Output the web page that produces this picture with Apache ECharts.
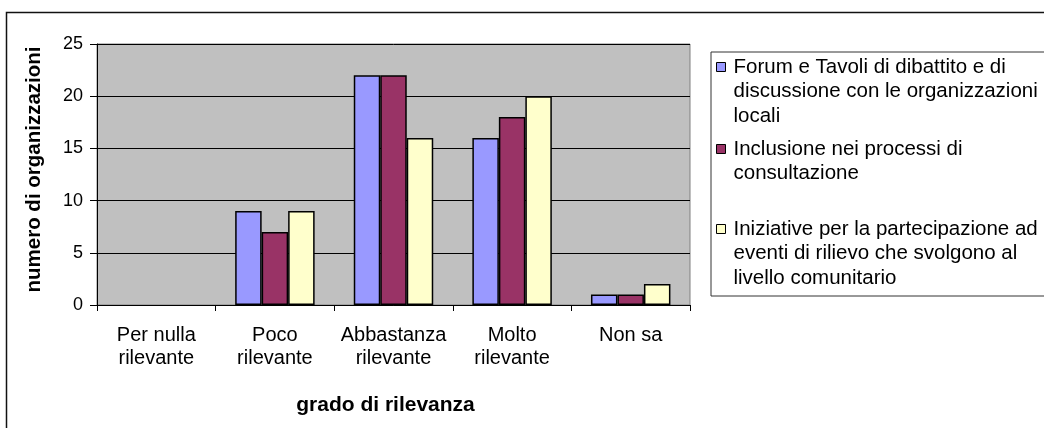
<!DOCTYPE html>
<html>
<head>
<meta charset="utf-8">
<script src="https://cdn.jsdelivr.net/npm/echarts@6/dist/echarts.min.js"></script>
<style>
html,body{margin:0;padding:0;background:#fff;}
#chart{width:1044px;height:428px;}
</style>
</head>
<body>
<div id="chart"></div>
<script>
const categories = ['Per nulla\nrilevante', 'Poco\nrilevante', 'Abbastanza\nrilevante', 'Molto\nrilevante', 'Non sa'];
const seriesNames = [
  'Forum e Tavoli di dibattito e di\ndiscussione con le organizzazioni\nlocali',
  'Inclusione nei processi di\nconsultazione',
  'Iniziative per la partecipazione ad\neventi di rilievo che svolgono al\nlivello comunitario'
];
const forumValues = [0, 9, 22, 16, 1];
const inclusioneValues = [0, 7, 22, 18, 1];
const iniziativeValues = [0, 9, 16, 20, 2];
const yTicks = [0, 5, 10, 15, 20, 25];
const yTitle = 'numero di organizzazioni';
const xTitle = 'grado di rilevanza';

const colors = ['#9999FF', '#993366', '#FFFFCC'];
const FONT = 'Liberation Sans, Arial, sans-serif';
const LH = 24.5;
const legendIconCenters = [67, 149, 229];

function legendFor(i) {
  const n = seriesNames[i].split('\n').length;
  return {
    data: [seriesNames[i]],
    orient: 'vertical',
    left: 716,
    top: legendIconCenters[i] - (2 * n - 1) * LH / 2,
    padding: 0,
    itemWidth: 9,
    itemHeight: 9,
    itemGap: 0,
    selectedMode: false,
    icon: 'rect',
    itemStyle: { borderColor: '#000', borderWidth: 1 },
    formatter: function (name) {
      const k = name.split('\n').length - 1;
      return '\n'.repeat(k) + name;
    },
    textStyle: { fontFamily: FONT, fontSize: 20.5, color: '#000', lineHeight: LH, padding: [0, 0, 0, 3] }
  };
}

const data = [forumValues, inclusioneValues, iniziativeValues];

const chart = echarts.init(document.getElementById('chart'), null, { renderer: 'canvas' });
chart.setOption({
  animation: false,
  backgroundColor: '#fff',
  graphic: [
    { type: 'rect', left: 4, top: 10, shape: { x: 0, y: 0, width: 1100, height: 500 }, style: { fill: 'none', stroke: '#111', lineWidth: 1.5 }, z: 100 },
    { type: 'rect', shape: { x: 711, y: 52, width: 400, height: 244 }, style: { fill: 'none', stroke: '#333', lineWidth: 1 }, z: 100 }
  ],
  legend: [legendFor(0), legendFor(1), legendFor(2)],
  grid: {
    left: 97, right: 354, top: 44, bottom: 123,
    show: true, backgroundColor: '#C0C0C0', borderColor: '#808080', borderWidth: 1
  },
  xAxis: {
    type: 'category',
    data: categories,
    boundaryGap: true,
    axisLine: { lineStyle: { color: '#000', width: 1 } },
    axisTick: { show: true, length: 6, lineStyle: { color: '#000' } },
    axisLabel: { fontFamily: FONT, fontSize: 20, color: '#000', lineHeight: 23, margin: 19, interval: 0 },
    name: xTitle,
    nameLocation: 'middle',
    nameGap: 90,
    nameTextStyle: { fontFamily: FONT, fontSize: 21, fontWeight: 'bold', color: '#000', padding: [0, 16, 0, 0] }
  },
  yAxis: {
    type: 'value',
    min: yTicks[0],
    max: yTicks[yTicks.length - 1],
    interval: yTicks[1] - yTicks[0],
    axisLine: { show: true, lineStyle: { color: '#000', width: 1 } },
    axisTick: { show: true, length: 7, lineStyle: { color: '#000' } },
    axisLabel: { fontFamily: FONT, fontSize: 18, color: '#000', margin: 14 },
    splitLine: { show: true, lineStyle: { color: '#000', width: 1 } },
    name: yTitle,
    nameLocation: 'middle',
    nameGap: 52,
    nameTextStyle: { fontFamily: FONT, fontSize: 20.5, fontWeight: 'bold', color: '#000', padding: [0, 0, 0, 10] }
  },
  series: data.map((vals, i) => ({
    type: 'bar',
    name: seriesNames[i],
    data: vals.map(v => v === 0 ? { value: v, itemStyle: { borderWidth: 0 } } : v),
    barGap: '0%',
    barCategoryGap: '33%',
    itemStyle: { color: colors[i], borderColor: '#000', borderWidth: 1.5 }
  }))
});
</script>
</body>
</html>
